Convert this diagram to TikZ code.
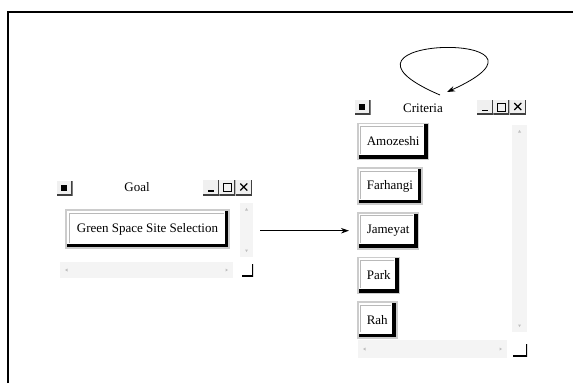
\documentclass[tikz,border=0pt]{standalone}
\usepackage{fontspec}
\setmainfont{Liberation Serif}
\usetikzlibrary{arrows.meta}
\usetikzlibrary{positioning}

\tikzset{
  btn/.style={draw=gray!40, line width=1.6pt, fill=white, minimum height=36pt, inner xsep=9pt,
    font=\fontsize{13}{15}\selectfont,
    path picture={
      \draw[black, line width=8.5pt] (path picture bounding box.north east) -- (path picture bounding box.south east) -- (path picture bounding box.south west);
      \draw[gray!55, line width=0.7pt] ([shift={(3pt,5.5pt)}]path picture bounding box.south west) -- ([shift={(3pt,-3pt)}]path picture bounding box.north west) -- ([shift={(-5.5pt,-3pt)}]path picture bounding box.north east);}},
  wintitle/.style={font=\fontsize{13}{15}\selectfont, inner sep=0pt},
  ctlbox/.style={fill=gray!12, minimum width=16pt, minimum height=15pt, inner sep=0pt,
    path picture={\draw[black!75, line width=2.6pt] (path picture bounding box.north east) -- (path picture bounding box.south east) -- (path picture bounding box.south west); #1}},
  ctlbox/.default={},
  winicon/.style={ctlbox={\fill[black] ([shift={(-3.5pt,-2.5pt)}]path picture bounding box.center) rectangle ++(6pt,6pt);}},
  minbox/.style={ctlbox={\draw[black, line width=1.8pt] ([shift={(-3pt,4pt)}]path picture bounding box.south) -- ++(6pt,0pt);}},
  maxbox/.style={ctlbox={\draw[black, line width=1pt] ([shift={(-4pt,3.5pt)}]path picture bounding box.south) rectangle ++(8pt,8pt);}},
  clsbox/.style={ctlbox={\draw[black, line width=1.2pt] ([shift={(-3.5pt,-3pt)}]path picture bounding box.center) -- ++(7pt,7pt) ([shift={(-3.5pt,4pt)}]path picture bounding box.center) -- ++(7pt,-7pt);}},
  vscroll/.style={fill=gray!9, minimum width=13pt, inner sep=0pt,
    path picture={
      \fill[gray!50] ([yshift=-5pt]path picture bounding box.north) -- ++(-1.5pt,-2.5pt) -- ++(3pt,0pt) -- cycle;
      \fill[gray!50] ([yshift=5pt]path picture bounding box.south) -- ++(-1.5pt,2.5pt) -- ++(3pt,0pt) -- cycle;}},
  hscroll/.style={fill=gray!9, minimum height=16pt, inner sep=0pt,
    path picture={
      \fill[gray!50] ([xshift=5pt]path picture bounding box.west) -- ++(2.5pt,1.5pt) -- ++(0pt,-3pt) -- cycle;
      \fill[gray!50] ([xshift=-5pt]path picture bounding box.east) -- ++(-2.5pt,1.5pt) -- ++(0pt,-3pt) -- cycle;}},
  sizegrip/.style={fill=white, minimum width=11pt, minimum height=13pt, inner sep=0pt,
    path picture={\draw[black, line width=3pt] (path picture bounding box.north east) -- (path picture bounding box.south east) -- (path picture bounding box.south west);}},
  conn/.style={line width=0.8pt, -{Stealth[length=8pt, width=5.5pt]}}
}

\begin{document}
\begin{tikzpicture}[x=1pt, y=-1pt]
                \useasboundingbox (0,0) rectangle (573,383);
                \draw[line width=2pt] (7.5,383) -- (7.5,12) -- (573,12);

                % Goal window
                \node[winicon] (goalicon) at (64.5,188) {};
                \node[wintitle] (goaltitle) at (137,187) {Goal};
                \node[minbox] (goalmin) at (211,187.5) {};
                \node[maxbox, right=0pt of goalmin] (goalmax) {};
                \node[clsbox, right=0pt of goalmax] (goalcls) {};
                \node[btn, minimum height=38pt, inner xsep=11pt] (goalbtn) at (147.5,229) {Green Space Site Selection};
                \node[vscroll, minimum height=54pt] (goalvs) at (246.5,230) {};
                \node[hscroll, minimum width=173pt] (goalhs) at (146.5,270) {};
                \node[sizegrip] (goalgrip) at (247.5,270) {};

                % Criteria window
                \node[winicon] (criticon) at (362.5,107) {};
                \node[wintitle] (crittitle) at (423,108) {Criteria};
                \node[minbox] (critmin) at (485,107) {};
                \node[maxbox, right=0pt of critmin] (critmax) {};
                \node[clsbox, right=0pt of critmax] (critcls) {};
                \node[btn, anchor=west] (amozeshi) at (357,141.5) {Amozeshi};
                \node[btn, below right=7pt and 0pt of amozeshi.south west] (farhangi) {Farhangi};
                \node[btn, below right=7pt and 0pt of farhangi.south west] (jameyat) {Jameyat};
                \node[btn, below right=7pt and 0pt of jameyat.south west] (park) {Park};
                \node[btn, below right=7pt and 0pt of park.south west] (rah) {Rah};
                \node[vscroll, minimum width=15pt, minimum height=207pt] (critvs) at (519.5,228.5) {};
                \node[hscroll, minimum width=149pt, minimum height=18pt] (crihs) at (432.5,349) {};
                \node[sizegrip, minimum width=14pt] (critgrip) at (520,350) {};

                % links
                \draw[conn, shorten <=7pt, shorten >=8pt] (goalvs.east |- jameyat.west) -- (jameyat.west);
                \coordinate (loopout) at (440,95);
                \coordinate (loopin) at (447,92);
                \draw[conn] (loopout) .. controls (300,35) and (585,30) .. (loopin);
            \end{tikzpicture}
\end{document}
